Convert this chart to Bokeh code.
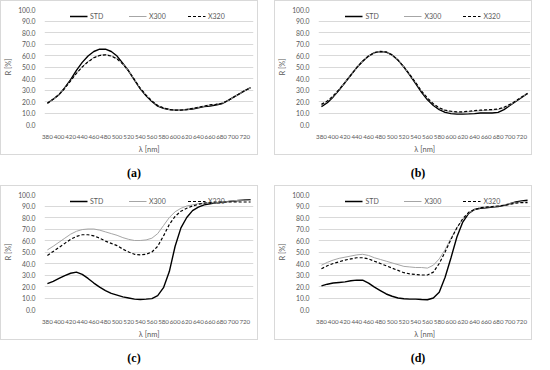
from bokeh.plotting import figure
from bokeh.models import FixedTicker, PrintfTickFormatter, Div, Legend, LegendItem
from bokeh.layouts import column, row
from bokeh.embed import file_html
from bokeh.resources import INLINE

wavelength = [380, 390, 400, 410, 420, 430, 440, 450, 460, 470, 480, 490,
              500, 510, 520, 530, 540, 550, 560, 570, 580, 590, 600, 610,
              620, 630, 640, 650, 660, 670, 680, 690, 700, 710, 720, 730]
x_tick_values = [380, 400, 420, 440, 460, 480, 500, 520, 540, 560, 580,
                 600, 620, 640, 660, 680, 700, 720]
y_tick_values = [0, 10, 20, 30, 40, 50, 60, 70, 80, 90, 100]
series_names = ["STD", "X300", "X320"]
captions = ["(a)", "(b)", "(c)", "(d)"]
x_label = "λ [nm]"
y_label = "R [%]"

# panel (a)
a_std = [18.5, 22, 26, 32, 39, 47, 54, 59.5, 63.5, 65.5, 65.5, 63.5,
         59.5, 53, 46.5, 38.5, 31, 25, 20, 16, 14, 13, 12.5, 12.5,
         13, 13.5, 14.5, 15.5, 16, 17, 18, 20.5, 23.5, 26.5, 29.5, 32]
a_x300 = [18.5, 22, 26, 31.5, 38, 44.5, 50.3, 54.8, 58.3, 60.3, 60.8, 59.8,
          57.3, 52.7, 46.6, 39, 31.5, 25.5, 20.5, 16.5, 14.5, 13, 12.5, 12.5,
          13, 14, 15, 16, 17, 17.5, 18.5, 20.5, 23.5, 26.5, 29.5, 32]
a_x320 = [18.5, 22, 26, 31.5, 38, 44.5, 50, 54.5, 58, 60, 60.5, 59.5,
          57, 52.5, 46.5, 39, 31.5, 25.5, 20.5, 16.5, 14.5, 13, 12.5, 12.5,
          13, 14, 15, 16, 17, 17.5, 18.5, 20.5, 23.5, 26.5, 29.5, 32]

# panel (b)
b_std = [15.5, 19, 24, 30, 36.5, 43, 49.5, 55, 59.5, 62.5, 63.5, 63,
         60.5, 56, 50, 43, 35.5, 28, 21.5, 16.5, 13, 10.5, 9.5, 9,
         9, 9.2, 9.5, 10, 10, 10, 10.5, 13, 16.5, 20, 23.5, 27]
b_x300 = [16.5, 20, 24.5, 30.5, 36.5, 43, 49.5, 55, 59.5, 62.5, 63.5, 63,
          60.5, 56, 50, 43.5, 36.5, 29, 22.5, 17.5, 14, 12, 11, 10.5,
          10.5, 11, 11.5, 12, 12.3, 12.5, 13, 14.5, 17, 20.5, 24, 27]
b_x320 = [17.5, 20.5, 25, 30.5, 36.5, 43, 49.5, 55, 59.5, 62.5, 63.5, 63,
          60.5, 56, 50, 43.5, 36.5, 29, 23, 18, 14.5, 12.5, 11.5, 11,
          11, 11.5, 12, 12.5, 12.8, 13, 13.5, 15, 17.5, 20.5, 24, 27]

# panel (c)
c_std = [22.5, 24.5, 27, 29.5, 31.5, 32.5, 30.5, 27, 23, 19.5, 16.5, 14,
         12.5, 11, 10, 9, 8.7, 9, 9.5, 12, 19, 33, 55, 71,
         80, 86, 89, 91, 92, 92.7, 93.3, 93.8, 94.3, 94.8, 95.2, 95.5]
c_x300 = [51.8, 55, 58.5, 62, 65.5, 68, 69.5, 70, 70, 69, 67.5, 66,
          64.5, 62.5, 61, 60, 60, 60.5, 62, 66, 73, 80, 85, 88,
          90, 91, 92, 92.5, 93, 93, 93.5, 94, 94.5, 95, 95, 95]
c_x320 = [47, 50.5, 54, 57.5, 61, 63.5, 65, 65, 64, 62, 59.5, 57.5,
          55.5, 52.5, 50, 48, 47.5, 48, 50, 55, 64, 74, 81, 85.5,
          88, 90, 91.5, 92.5, 93, 93.5, 93.5, 93.5, 93.5, 93.5, 93.5, 93.5]

# panel (d)
d_std = [20.5, 22, 23, 23.5, 24, 25, 25.5, 25.5, 23, 19.5, 16.5, 13.5,
         11.5, 10, 9.3, 9, 9, 8.7, 8.5, 10, 15, 28, 45, 63,
         76, 83.5, 87, 88, 88.5, 89, 89.5, 90.5, 92, 93.5, 94.5, 95]
d_x300 = [38.5, 41, 43, 44.5, 45.5, 46.5, 47.5, 48, 47, 45, 43.5, 42,
          40.5, 39, 37.5, 37, 36.5, 36.5, 36, 38.5, 44, 52, 62, 71,
          78.5, 84, 87, 88.5, 89, 89.5, 90, 91, 92, 93, 93.5, 94]
d_x320 = [35.5, 38, 40, 41.5, 43, 44, 45, 45, 44, 42, 40, 38,
          36, 34, 32, 31, 30.5, 30, 30, 32.5, 40, 50, 61, 71,
          79, 84.5, 87, 88.5, 89, 89.5, 90, 90.5, 91.5, 92.5, 93, 93]

FONT = "Lato"
TXT = "#595959"
GRID = "#d9d9d9"


def make_panel(std, x300, x320, left, right):
    p = figure(width=258, height=155, x_range=(375, 735), y_range=(0, 100),
               output_backend="svg", toolbar_location=None,
               min_border_left=left, min_border_right=right,
               min_border_top=8, min_border_bottom=30,
               styles={"border": "1px solid #d9d9d9"})
    p.outline_line_color = None
    p.background_fill_color = "white"
    p.border_fill_color = "white"
    p.xgrid.grid_line_color = None
    p.ygrid.grid_line_color = GRID
    p.ygrid.grid_line_width = 1
    p.xaxis.ticker = FixedTicker(ticks=x_tick_values)
    p.yaxis.ticker = FixedTicker(ticks=y_tick_values)
    p.yaxis.formatter = PrintfTickFormatter(format="%.1f")
    for ax in (p.xaxis, p.yaxis):
        ax.axis_line_color = None
        ax.major_tick_line_color = None
        ax.minor_tick_line_color = None
        ax.major_label_text_font = FONT
        ax.major_label_text_color = TXT
        ax.axis_label_text_font = FONT
        ax.axis_label_text_font_size = "7.5px"
        ax.axis_label_text_font_style = "normal"
        ax.axis_label_text_color = TXT
    p.xaxis.major_label_text_font_size = "6.2px"
    p.yaxis.major_label_text_font_size = "6.8px"
    p.xaxis.axis_label = x_label
    p.yaxis.axis_label = y_label
    p.xaxis.major_label_standoff = 4
    p.yaxis.major_label_standoff = 3
    p.xaxis.axis_label_standoff = 3
    p.yaxis.axis_label_standoff = 2

    r_std = p.line(wavelength, std, line_color="black", line_width=1.4)
    r_300 = p.line(wavelength, x300, line_color="#a6a6a6", line_width=1.0)
    r_320 = p.line(wavelength, x320, line_color="black", line_width=1.2,
                   line_dash="3 2")
    legend = Legend(items=[LegendItem(label=series_names[0], renderers=[r_std]),
                           LegendItem(label=series_names[1], renderers=[r_300]),
                           LegendItem(label=series_names[2], renderers=[r_320])],
                    orientation="horizontal", location="top_center")
    legend.margin = 1
    legend.padding = 2
    legend.spacing = 18
    legend.glyph_width = 18
    legend.glyph_height = 8
    legend.label_height = 8
    legend.label_standoff = 3
    legend.label_text_font = FONT
    legend.label_text_font_size = "7px"
    legend.label_text_color = TXT
    legend.background_fill_alpha = 0
    legend.border_line_alpha = 0
    p.add_layout(legend)
    return p


def make_caption(txt):
    return Div(text=txt, width=258, height=20,
               styles={"text-align": "center",
                       "font-family": "'Liberation Serif', serif",
                       "font-weight": "bold", "font-size": "12px",
                       "line-height": "26px", "color": "black"})


pa = make_panel(a_std, a_x300, a_x320, 38, 6)
pb = make_panel(b_std, b_x300, b_x320, 40, 3)
pc = make_panel(c_std, c_x300, c_x320, 38, 6)
pd = make_panel(d_std, d_x300, d_x320, 40, 3)

layout = column(
    row(pa, pb, spacing=16),
    row(make_caption(captions[0]), make_caption(captions[1]), spacing=16),
    row(pc, pd, spacing=16),
    row(make_caption(captions[2]), make_caption(captions[3]), spacing=16),
    spacing=0,
)

open("out.html", "w").write(file_html(layout, INLINE))
